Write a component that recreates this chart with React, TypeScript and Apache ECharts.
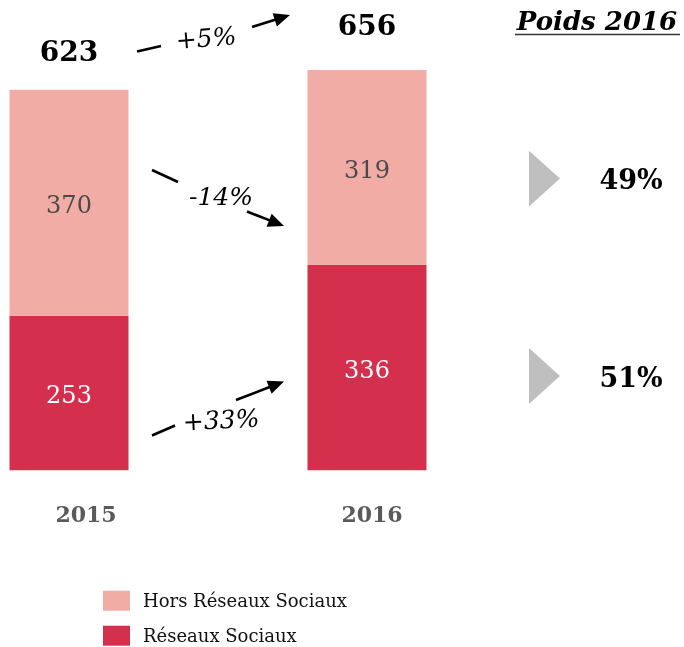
import React, { useEffect, useRef } from "react";
import * as echarts from "echarts";

const categories = ["2015", "2016"];
const reseauxSociaux = [253, 336];
const horsReseaux = [370, 319];
const totals = [623, 656];
const variations = ["+5%", "-14%", "+33%"];
const poids2016 = ["49%", "51%"];

const FONT = "'DejaVu Serif', 'Liberation Serif', serif";
const PINK = "#F2ACA6";
const RED = "#D42F4D";

function arrow(x1: number, y1: number, x2: number, y2: number, tx: number, ty: number, ex: number, ey: number) {
  const ang = Math.atan2(ey - ty, ex - tx);
  const L = 16;
  const W = 7;
  const bx = ex - L * Math.cos(ang);
  const by = ey - L * Math.sin(ang);
  const px = -Math.sin(ang) * W;
  const py = Math.cos(ang) * W;
  const lineStyle = { stroke: "#000", lineWidth: 2.6 };
  return [
    { type: "line", shape: { x1, y1, x2, y2 }, style: lineStyle },
    { type: "line", shape: { x1: tx, y1: ty, x2: bx + 2 * Math.cos(ang), y2: by + 2 * Math.sin(ang) }, style: lineStyle },
    {
      type: "polygon",
      shape: { points: [[ex, ey], [bx + px, by + py], [bx - px, by - py]] },
      style: { fill: "#000" },
    },
  ];
}

export default function App() {
  const ref = useRef<HTMLDivElement>(null);
  useEffect(() => {
    if (!ref.current) return;
    const chart = echarts.init(ref.current, null, { renderer: "svg" });
    const varText = (text: string, x: number, y: number, rot: number) => ({
      type: "text",
      x,
      y,
      rotation: rot,
      style: {
        text,
        font: `italic 25px ${FONT}`,
        fill: "#000",
        align: "center",
        verticalAlign: "middle",
      },
    });
    chart.setOption({
      animation: false,
      textStyle: { fontFamily: FONT },
      grid: { left: 69, width: 298, top: 42.6, height: 427.7 },
      xAxis: {
        type: "category",
        data: categories,
        boundaryGap: false,
        axisLine: { show: false },
        axisTick: { show: false },
        axisLabel: {
          margin: 33,
          formatter: (v: string) => (v === "2015" ? `{a|${v}}` : `{b|${v}}`),
          rich: {
            a: { fontFamily: FONT, fontWeight: "bold", fontSize: 22, color: "#5A5A5A", padding: [0, 0, 0, 34] },
            b: { fontFamily: FONT, fontWeight: "bold", fontSize: 22, color: "#5A5A5A", padding: [0, 0, 0, 10] },
          },
        },
      },
      yAxis: {
        type: "value",
        min: 0,
        max: 700,
        show: false,
        splitLine: { show: false },
      },
      legend: {
        orient: "vertical",
        left: 103,
        top: 590.7,
        padding: 0,
        icon: "rect",
        itemWidth: 27,
        itemHeight: 20,
        itemGap: 15,
        data: ["Hors Réseaux Sociaux", "Réseaux Sociaux"],
        textStyle: { fontFamily: FONT, fontSize: 18, color: "#111", padding: [0, 0, 0, 8] },
        selectedMode: false,
      },
      series: [
        {
          name: "Réseaux Sociaux",
          type: "bar",
          stack: "t",
          barWidth: 119,
          clip: false,
          data: reseauxSociaux,
          itemStyle: { color: RED },
          label: {
            show: true,
            position: "inside",
            offset: [0, 2],
            fontFamily: FONT,
            fontSize: 24,
            color: "#fff",
          },
        },
        {
          name: "Hors Réseaux Sociaux",
          type: "bar",
          stack: "t",
          barWidth: 119,
          clip: false,
          data: horsReseaux,
          itemStyle: { color: PINK },
          label: {
            show: true,
            position: "inside",
            offset: [0, 2],
            fontFamily: FONT,
            fontSize: 24,
            color: "#4A4A4A",
          },
        },
        {
          name: "Total",
          type: "scatter",
          symbolSize: 0,
          clip: false,
          silent: true,
          itemStyle: { opacity: 1, color: "#000" },
          data: totals.map((v, i) => ({
            value: v,
            label: { offset: [0, i === 0 ? -38 : -44] },
          })),
          label: {
            show: true,
            position: "inside",
            fontFamily: FONT,
            fontWeight: "bold",
            fontSize: 28,
            color: "#000",
            opacity: 1,
          },
        },
      ],
      graphic: [
        ...arrow(137, 51.5, 161, 46, 252, 27, 290, 15),
        varText(variations[0], 206, 38, 0.08),
        ...arrow(152, 170, 178, 182, 247, 211.5, 284, 226),
        varText(variations[1], 221, 196, 0),
        ...arrow(152, 435.5, 175, 425.5, 236, 400, 284, 381.5),
        varText(variations[2], 221, 420, 0.05),
        {
          type: "text",
          x: 597,
          y: 21,
          style: {
            text: "Poids 2016",
            font: `italic bold 26px ${FONT}`,
            fill: "#000",
            align: "center",
            verticalAlign: "middle",
          },
        },
        { type: "line", shape: { x1: 515, y1: 34.5, x2: 680, y2: 34.5 }, style: { stroke: "#333", lineWidth: 1.5 } },
        {
          type: "polygon",
          shape: { points: [[529, 150.7], [560, 178.5], [529, 206.5]] },
          style: { fill: "#BFBFBF" },
        },
        {
          type: "polygon",
          shape: { points: [[529, 348], [560, 376], [529, 404]] },
          style: { fill: "#BFBFBF" },
        },
        {
          type: "text",
          x: 631,
          y: 179,
          style: { text: poids2016[0], font: `bold 27px ${FONT}`, fill: "#000", align: "center", verticalAlign: "middle" },
        },
        {
          type: "text",
          x: 631,
          y: 377,
          style: { text: poids2016[1], font: `bold 27px ${FONT}`, fill: "#000", align: "center", verticalAlign: "middle" },
        },
      ],
    });
    return () => chart.dispose();
  }, []);
  return <div ref={ref} style={{ width: 684, height: 647, position: "fixed", left: 0, top: 0 }} />;
}
